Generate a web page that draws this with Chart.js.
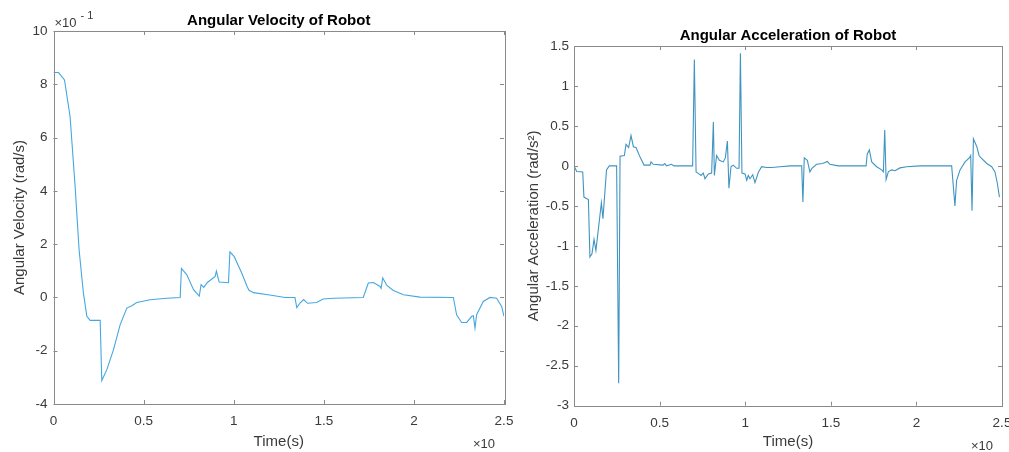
<!DOCTYPE html>
<html>
<head>
<meta charset="utf-8">
<title>Angular Velocity / Acceleration of Robot</title>
<script src="https://cdn.jsdelivr.net/npm/chart.js@4.4.1/dist/chart.umd.min.js"></script>
<style>
  html, body { margin: 0; padding: 0; background: #fff; overflow: hidden; }
  #wrap { position: relative; width: 1009px; height: 452px; overflow: hidden; }
  #velBox { position: absolute; left: 0; top: 0; width: 525px; height: 452px; }
  #accBox { position: absolute; left: 505px; top: 0; width: 520px; height: 452px; }
</style>
</head>
<body>
<div id="wrap">
  <div id="velBox"><canvas id="velChart"></canvas></div>
  <div id="accBox"><canvas id="accChart"></canvas></div>
</div>
<script>
// time axis is shown as value x10, velocity as value x10^-1 (as on the original plot)
var velTime = [0, 0.028, 0.061, 0.092, 0.12, 0.142, 0.166, 0.185, 0.203, 0.259,
  0.268, 0.296, 0.333, 0.37, 0.407, 0.435, 0.462, 0.536, 0.629, 0.703,
  0.71, 0.74, 0.777, 0.809, 0.819, 0.834, 0.854, 0.897, 0.904, 0.919,
  0.971, 0.979, 1.003, 1.045, 1.075, 1.085, 1.11, 1.2, 1.285, 1.34,
  1.35, 1.368, 1.388, 1.41, 1.46, 1.497, 1.553, 1.719, 1.747, 1.775,
  1.812, 1.818, 1.827, 1.85, 1.886, 1.942, 2.034, 2.219, 2.237, 2.265,
  2.293, 2.321, 2.33, 2.339, 2.348, 2.385, 2.422, 2.459, 2.487, 2.5];
var velValue = [8.44, 8.44, 8.16, 6.79, 4.16, 1.79, 0.16, -0.71, -0.86, -0.86,
  -3.12, -2.71, -1.96, -1.02, -0.4, -0.31, -0.19, -0.09, -0.03, 0,
  1.09, 0.85, 0.29, 0.05, 0.48, 0.38, 0.56, 0.79, 0.99, 0.58,
  0.55, 1.71, 1.53, 0.91, 0.4, 0.27, 0.18, 0.09, 0.0, 0,
  -0.38, -0.21, -0.08, -0.22, -0.19, -0.06, -0.03, 0, 0.54, 0.56,
  0.41, 0.34, 0.73, 0.45, 0.26, 0.1, 0.01, 0, -0.65, -0.94,
  -0.94, -0.71, -0.69, -1.15, -0.65, -0.15, 0, -0.03, -0.34, -0.71];

var accTime = [0, 0.016, 0.051, 0.058, 0.084, 0.093, 0.105, 0.117, 0.128, 0.16,
  0.169, 0.19, 0.206, 0.249, 0.261, 0.269, 0.294, 0.304, 0.319, 0.333,
  0.347, 0.362, 0.386, 0.409, 0.444, 0.45, 0.463, 0.52, 0.53, 0.54,
  0.57, 0.584, 0.693, 0.703, 0.713, 0.73, 0.742, 0.755, 0.765, 0.785,
  0.804, 0.814, 0.82, 0.833, 0.849, 0.872, 0.884, 0.896, 0.905, 0.917,
  0.93, 0.95, 0.964, 0.972, 0.981, 0.999, 1.009, 1.018, 1.028, 1.044,
  1.057, 1.077, 1.096, 1.125, 1.155, 1.203, 1.262, 1.33, 1.337, 1.345,
  1.363, 1.378, 1.39, 1.417, 1.452, 1.48, 1.495, 1.544, 1.706, 1.713,
  1.725, 1.739, 1.768, 1.797, 1.807, 1.815, 1.823, 1.836, 1.855, 1.875,
  1.904, 1.943, 2.021, 2.206, 2.225, 2.235, 2.255, 2.284, 2.309, 2.317,
  2.325, 2.333, 2.353, 2.366, 2.378, 2.411, 2.44, 2.459, 2.473, 2.485];
var accValue = [0, -0.07, -0.075, -0.39, -0.42, -1.14, -1.1, -0.92, -1.06, -0.46,
  -0.66, -0.05, 0, 0, -2.72, 0.12, 0.13, 0.27, 0.23, 0.38,
  0.24, 0.23, 0.11, 0.01, 0.01, 0.05, 0.02, 0.01, 0.03, 0,
  0.02, 0, 0, 1.33, -0.075, -0.1, -0.12, -0.09, -0.16, -0.1,
  -0.09, 0.55, -0.12, 0.13, 0.07, 0.05, 0.1, 0.31, -0.28, -0.01,
  0.01, -0.03, -0.03, 1.41, -0.09, -0.1, -0.18, -0.12, -0.16, -0.11,
  -0.21, -0.08, -0.01, -0.02, -0.02, -0.01, 0, 0, -0.45, 0.1,
  0.07, -0.075, -0.03, 0.02, 0.03, 0.055, 0.02, 0, 0, 0.15,
  0.2, 0.05, -0.01, -0.05, -0.075, 0.45, -0.17, -0.075, -0.05, -0.06,
  -0.025, -0.01, 0, 0, -0.5, -0.18, -0.05, 0.05, 0.1, 0.13,
  -0.56, 0.34, 0.24, 0.13, 0.1, 0.03, -0.01, -0.075, -0.22, -0.39];

var timeTicks = [0, 0.5, 1, 1.5, 2, 2.5];
var velTicks = [-4, -2, 0, 2, 4, 6, 8, 10];
var accTicks = [-3, -2.5, -2, -1.5, -1, -0.5, 0, 0.5, 1, 1.5];

var FONT = "'Liberation Sans', Arial, Helvetica, sans-serif";
var AXIS = '#8a8a8a';
var TEXT = '#3a3a3a';

function toPoints(xs, ys) {
  var pts = [];
  for (var i = 0; i < xs.length; i++) pts.push({x: xs[i], y: ys[i]});
  return pts;
}

// matlab style box: frame on all sides, short ticks pointing inward, exponent labels
var boxPlugin = {
  id: 'matlabBox',
  afterDraw: function (chart, args, opts) {
    var ctx = chart.ctx, a = chart.chartArea;
    var xs = chart.scales.x, ys = chart.scales.y;
    ctx.save();
    ctx.strokeStyle = AXIS;
    ctx.lineWidth = 1;
    ctx.strokeRect(Math.round(a.left) + 0.5, Math.round(a.top) + 0.5,
      Math.round(a.right - a.left), Math.round(a.bottom - a.top));
    ctx.beginPath();
    xs.ticks.forEach(function (t) {
      var px = Math.round(xs.getPixelForValue(t.value)) + 0.5;
      ctx.moveTo(px, a.bottom); ctx.lineTo(px, a.bottom - 4);
      ctx.moveTo(px, a.top); ctx.lineTo(px, a.top + 4);
    });
    ys.ticks.forEach(function (t) {
      var py = Math.round(ys.getPixelForValue(t.value)) + 0.5;
      ctx.moveTo(a.left, py); ctx.lineTo(a.left + 4, py);
      ctx.moveTo(a.right, py); ctx.lineTo(a.right - 4, py);
    });
    ctx.stroke();

    ctx.fillStyle = TEXT;
    ctx.textBaseline = 'alphabetic';
    ctx.textAlign = 'left';
    ctx.font = '13px ' + FONT;
    ctx.fillText('\u00d710', a.right - 31, a.bottom + 44);
    if (opts.yExp) {
      ctx.font = '13px ' + FONT;
      ctx.fillText('\u00d710', a.left + 1, a.top - 4);
      ctx.font = '11px ' + FONT;
      ctx.fillText(opts.yExp, a.left + 27, a.top - 12);
    }
    ctx.restore();
  }
};

function plainLabel(v) { return String(v); }

function makeOptions(cfg) {
  return {
    responsive: true,
    maintainAspectRatio: false,
    animation: false,
    layout: { padding: { left: 0, right: cfg.padRight, top: 0, bottom: 0 } },
    plugins: {
      legend: { display: false },
      tooltip: { enabled: false },
      title: {
        display: true,
        fullSize: false,
        text: cfg.title,
        color: '#000',
        font: { family: FONT, size: 15, weight: 'bold' },
        padding: { top: cfg.titleTop, bottom: cfg.titleBottom }
      },
      matlabBox: { yExp: cfg.yExp }
    },
    scales: {
      x: {
        type: 'linear',
        min: 0, max: 2.5,
        afterBuildTicks: function (s) { s.ticks = timeTicks.map(function (v) { return {value: v}; }); },
        afterFit: function (s) { s.height = cfg.xHeight; },
        grid: { display: false, drawTicks: false },
        border: { display: false },
        ticks: { color: TEXT, font: { family: FONT, size: 13.5 }, padding: 9, maxRotation: 0, callback: plainLabel },
        title: { display: true, text: 'Time(s)', color: TEXT, font: { family: FONT, size: 15 }, padding: { top: 0, bottom: 1.5 } }
      },
      y: {
        type: 'linear',
        min: cfg.yMin, max: cfg.yMax,
        afterBuildTicks: function (s) { s.ticks = cfg.yTicks.map(function (v) { return {value: v}; }); },
        afterFit: function (s) { s.width = cfg.yWidth; },
        grid: { display: false, drawTicks: false },
        border: { display: false },
        ticks: { color: TEXT, font: { family: FONT, size: 13.5 }, padding: cfg.yPad, callback: plainLabel },
        title: { display: true, text: cfg.yLabel, color: TEXT, font: { family: FONT, size: 15 }, padding: { top: cfg.yTitlePad, bottom: 0 } }
      }
    }
  };
}

new Chart(document.getElementById('velChart'), {
  type: 'line',
  data: {
    datasets: [{
      data: toPoints(velTime, velValue),
      borderColor: '#45a7e0',
      borderWidth: 1.1,
      pointRadius: 0,
      tension: 0,
      fill: false
    }]
  },
  options: makeOptions({
    title: 'Angular Velocity of Robot', titleTop: 12.3, titleBottom: 0.7,
    padRight: 21, xHeight: 48, yWidth: 53.5, yPad: 6, yTitlePad: 10.5,
    yMin: -4, yMax: 10, yTicks: velTicks, yLabel: 'Angular Velocity (rad/s)', yExp: '- 1'
  }),
  plugins: [boxPlugin]
});

new Chart(document.getElementById('accChart'), {
  type: 'line',
  data: {
    datasets: [{
      data: toPoints(accTime, accValue),
      borderColor: '#4094c0',
      borderWidth: 1.1,
      pointRadius: 0,
      tension: 0,
      fill: false
    }]
  },
  options: makeOptions({
    title: 'Angular Acceleration of Robot', titleTop: 27.3, titleBottom: 0.7,
    padRight: 23, xHeight: 46.3, yWidth: 69, yPad: 5, yTitlePad: 20,
    yMin: -3, yMax: 1.5, yTicks: accTicks, yLabel: 'Angular Acceleration (rad/s\u00b2)', yExp: null
  }),
  plugins: [boxPlugin]
});
</script>
</body>
</html>
